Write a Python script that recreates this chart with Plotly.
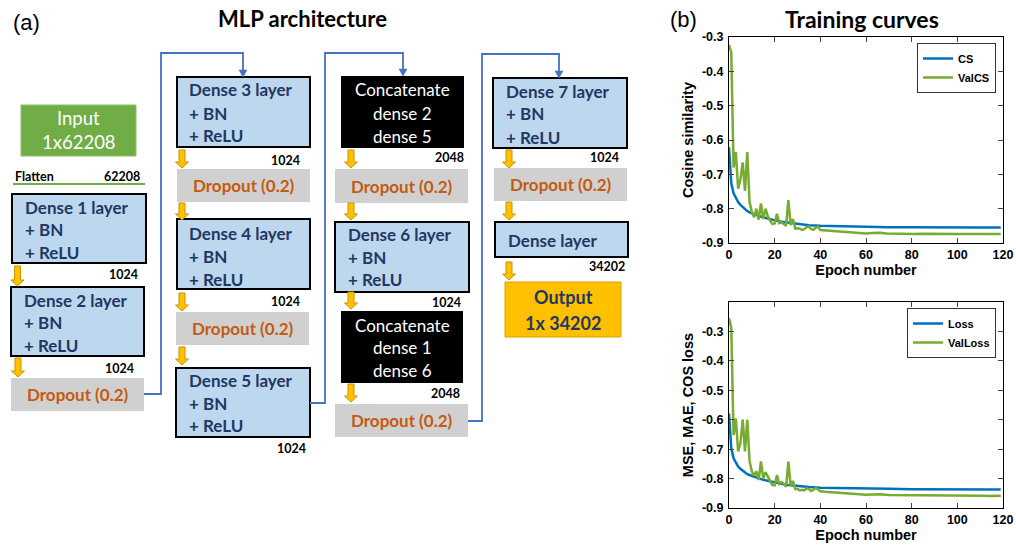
import plotly.graph_objects as go

# The page body margin is removed by a post script, so the figure fills the window exactly.
OFF = 0
W, H = 1016 - OFF, 548 - OFF

# ---------------- chart data ----------------
cs_epochs = [0, 1, 2, 3, 4, 5, 6, 7, 8, 9, 10, 12, 14, 16, 18, 20, 23, 26, 30, 35, 40, 45, 50, 60, 70, 80, 90, 100, 110, 119]
cs = [-0.621, -0.726, -0.755, -0.770, -0.781, -0.789, -0.796, -0.802, -0.807, -0.811, -0.814, -0.819, -0.823, -0.827,
      -0.831, -0.834, -0.838, -0.841, -0.845, -0.848, -0.850, -0.851, -0.852, -0.853, -0.854, -0.854, -0.855, -0.855,
      -0.855, -0.855]

valcs_epochs = list(range(0, 41)) + [42, 44, 46, 48, 50, 52, 55, 58, 60, 63, 66, 69, 72, 75, 78, 81, 85, 90, 95, 100, 105, 110, 115, 119]
valcs = [-0.323, -0.345, -0.680, -0.635, -0.742, -0.715, -0.665, -0.748, -0.635, -0.780,
         -0.810, -0.825, -0.800, -0.832, -0.785, -0.830, -0.800, -0.822, -0.835, -0.845,
         -0.843, -0.815, -0.842, -0.840, -0.845, -0.850, -0.775, -0.848, -0.830, -0.858,
         -0.857, -0.858, -0.862, -0.860, -0.853, -0.852, -0.860, -0.862, -0.855, -0.852,
         -0.862,
         -0.863, -0.865, -0.866, -0.867, -0.868, -0.869, -0.870, -0.871, -0.872, -0.871, -0.870, -0.872,
         -0.873, -0.872, -0.873, -0.874, -0.873, -0.874, -0.873, -0.874, -0.874, -0.873, -0.874, -0.874]

loss_epochs = cs_epochs
loss = [-0.579, -0.697, -0.731, -0.748, -0.759, -0.767, -0.774, -0.780, -0.785, -0.788, -0.791, -0.797, -0.802, -0.806,
        -0.810, -0.814, -0.818, -0.822, -0.826, -0.829, -0.831, -0.832, -0.833, -0.834, -0.835, -0.836, -0.836, -0.837,
        -0.837, -0.837]

valloss_epochs = list(range(0, 41)) + [42, 44, 46, 48, 50, 53, 56, 60, 63, 66, 70, 75, 80, 85, 90, 95, 100, 105, 110, 115, 119]
valloss = [-0.255, -0.287, -0.652, -0.596, -0.708, -0.680, -0.600, -0.708, -0.600, -0.740,
           -0.775, -0.790, -0.775, -0.805, -0.742, -0.800, -0.778, -0.795, -0.808, -0.822,
           -0.823, -0.788, -0.818, -0.812, -0.818, -0.828, -0.742, -0.826, -0.808, -0.836,
           -0.835, -0.840, -0.838, -0.840, -0.833, -0.836, -0.842, -0.838, -0.832, -0.837,
           -0.843,
           -0.845, -0.846, -0.848, -0.849, -0.851, -0.852, -0.853, -0.855, -0.854, -0.853, -0.856,
           -0.856, -0.858, -0.858, -0.857, -0.858, -0.858, -0.858, -0.858, -0.859, -0.858]

x_ticks = [0, 20, 40, 60, 80, 100, 120]
y_tickvals = [-0.9, -0.8, -0.7, -0.6, -0.5, -0.4, -0.3]
y_ticktext = ["-0.9", "-0.8", "-0.7", "-0.6", "-0.5", "-0.4", "-0.3"]

BLUE = "#0072BD"
GREEN = "#77AC30"


# ---------------- pixel helpers (reference pixel coords -> paper) ----------------
def X(x):
    return (x - OFF) / W


def Y(y):
    return 1 - (y - OFF) / H


def P(x, y):
    return f"{X(x):.5f},{Y(y):.5f}"


fig = go.Figure()
fig.add_trace(go.Scatter(x=cs_epochs, y=cs, mode="lines", name="CS", line=dict(color=BLUE, width=2.5),
                         xaxis="x", yaxis="y", legend="legend"))
fig.add_trace(go.Scatter(x=valcs_epochs, y=valcs, mode="lines", name="ValCS", line=dict(color=GREEN, width=2.5),
                         xaxis="x", yaxis="y", legend="legend"))
fig.add_trace(go.Scatter(x=loss_epochs, y=loss, mode="lines", name="Loss", line=dict(color=BLUE, width=2.5),
                         xaxis="x2", yaxis="y2", legend="legend2"))
fig.add_trace(go.Scatter(x=valloss_epochs, y=valloss, mode="lines", name="ValLoss", line=dict(color=GREEN, width=2.5),
                         xaxis="x2", yaxis="y2", legend="legend2"))

AX_FONT = dict(family="Liberation Sans, Arial", size=12.5, color="black", weight="bold")
TITLE_FONT = dict(family="Liberation Sans, Arial", size=14.5, color="black", weight="bold")


def xax(anchor):
    return dict(domain=[X(729), X(1003)], anchor=anchor, range=[0, 120], tickvals=x_ticks, automargin=False,
                ticks="inside", ticklen=5, mirror="allticks", showline=True, linecolor="black", linewidth=1,
                showgrid=False, zeroline=False, tickfont=AX_FONT, title=dict(text="Epoch number", font=TITLE_FONT, standoff=2))


def yax(anchor, top, bottom, rng, title):
    return dict(domain=[Y(bottom), Y(top)], anchor=anchor, range=rng, tickvals=y_tickvals, ticktext=y_ticktext,
                automargin=False, ticks="inside", ticklen=5, mirror="allticks", showline=True, linecolor="black",
                linewidth=1, showgrid=False, zeroline=False, tickfont=AX_FONT, ticklabelstandoff=2,
                title=dict(text=title, font=TITLE_FONT, standoff=4))


# ---------------- diagram ----------------
shapes = []
annotations = []

LB, GRAY, NAVY, ORANGE = "#BDD7EE", "#D0D0D0", "#1F3864", "#C55A11"
DFONT = "Lato, Calibri, Open Sans"


def rect(x0, y0, x1, y1, fill, line=None, lw=0):
    shapes.append(dict(type="rect", xref="paper", yref="paper", x0=X(x0), x1=X(x1), y0=Y(y1), y1=Y(y0),
                       fillcolor=fill, line=dict(color=line if line else fill, width=lw)))


def text(x, y, t, size, color, anchor="left", bold=False, family=DFONT):
    annotations.append(dict(xref="paper", yref="paper", x=X(x), y=Y(y), text=("<b>%s</b>" % t) if bold else t,
                            showarrow=False, xanchor=anchor, yanchor="middle",
                            font=dict(family=family, size=size, color=color)))


dense_boxes = [
    (12, 194, 146, 263, "Dense 1 layer", 23, (207, 229, 252)),
    (11, 287, 144, 356, "Dense 2 layer", 22, (300, 322, 345)),
    (177, 77, 310, 147, "Dense 3 layer", 187, (90, 113, 135)),
    (177, 219, 310, 289, "Dense 4 layer", 187, (233, 256, 279)),
    (176, 368, 310, 437, "Dense 5 layer", 187, (380, 403, 425)),
    (335, 222, 469, 292, "Dense 6 layer", 346, (234, 257, 279)),
    (493, 78, 627, 148, "Dense 7 layer", 504, (91, 113, 137)),
]
for x0, y0, x1, y1, t, tx, ys in dense_boxes:
    rect(x0, y0, x1, y1, LB, "black", 2)
    for line_text, yy in zip([t, "+ BN", "+ ReLU"], ys):
        text(tx, yy, line_text, 17, NAVY, "left", True)

rect(495, 222, 628, 257, LB, "black", 2)
text(506, 240, "Dense layer", 17, NAVY, "left", True)

dropouts = [(11, 378, 144, 411), (177, 169, 310, 202), (176, 312, 309, 345),
            (335, 169, 468, 203), (335, 404, 468, 437), (494, 168, 627, 201)]
for x0, y0, x1, y1 in dropouts:
    rect(x0, y0, x1, y1, GRAY)
    text((x0 + x1) / 2, (y0 + y1) / 2, "Dropout (0.2)", 17, ORANGE, "center", True)

concats = [(341, 76, 464, 148, ["Concatenate", "dense 2", "dense 5"], (90, 113, 136)),
           (341, 311, 463, 383, ["Concatenate", "dense 1", "dense 6"], (325, 347, 370))]
for x0, y0, x1, y1, lines, ys in concats:
    rect(x0, y0, x1, y1, "black")
    for lt, yy in zip(lines, ys):
        text((x0 + x1) / 2, yy, lt, 17, "white", "center")

# input
rect(21, 105, 136, 156, "#70AD47", "#8CC168", 1)
text(78.5, 118, "Input", 18.5, "white", "center")
text(78.5, 142, "1x62208", 18.5, "white", "center")

# output
rect(505, 282, 621, 337, "#FFC000", "#D9A300", 1)
text(563, 297, "Output", 18, NAVY, "center", True)
text(563, 323, "1x 34202", 18, NAVY, "center", True)

# flatten
text(13, 176, "Flatten", 12.5, "black", "left", True)
text(142, 176, "62208", 12.5, "black", "right", True)
shapes.append(dict(type="line", xref="paper", yref="paper", x0=X(13), x1=X(145), y0=Y(184), y1=Y(184),
                   line=dict(color="#70AD47", width=2)))

# size labels
sizes = [(140, 274, "1024"), (136, 368, "1024"), (302, 160, "1024"), (302, 301, "1024"), (308, 448, "1024"),
         (466, 158, "2048"), (463, 302, "1024"), (462, 393, "2048"), (621, 158, "1024"), (627, 266, "34202")]
for x, y, t in sizes:
    text(x, y, t, 12.5, "black", "right", True)

# yellow arrows
arrows = [(17.5, 266, 286), (18, 358, 377),
          (182, 150, 168), (182, 203, 220), (182, 293, 311), (182, 347, 365),
          (351, 150, 168), (351, 203, 220), (351, 292, 309), (351, 384, 402),
          (509, 150, 168), (509, 202, 220), (509, 262, 280)]
for x, y0, y1 in arrows:
    pts = [(x - 3, y0), (x + 3, y0), (x + 3, y1 - 6), (x + 6.5, y1 - 6), (x, y1), (x - 6.5, y1 - 6), (x - 3, y1 - 6)]
    path = "M " + " L ".join(P(a, b) for a, b in pts) + " Z"
    shapes.append(dict(type="path", xref="paper", yref="paper", path=path, fillcolor="#FFC000",
                       line=dict(color="#C89400", width=1)))

# blue connectors
CONN = "#4472C4"
connectors = [
    [(144, 394), (161, 394), (161, 53), (243, 53), (243, 77)],
    [(310, 403), (325, 403), (325, 53), (403, 53), (403, 76)],
    [(468, 421), (482, 421), (482, 54), (559, 54), (559, 78)],
]
for pts in connectors:
    tipx, tipy = pts[-1]
    pts2 = pts[:-1] + [(tipx, tipy - 6)]
    path = "M " + " L ".join(P(a, b) for a, b in pts2)
    shapes.append(dict(type="path", xref="paper", yref="paper", path=path, line=dict(color=CONN, width=1.8)))
    tri = "M " + " L ".join(P(a, b) for a, b in [(tipx - 4, tipy - 7), (tipx + 4, tipy - 7), (tipx, tipy)]) + " Z"
    shapes.append(dict(type="path", xref="paper", yref="paper", path=tri, fillcolor=CONN, line=dict(color=CONN, width=0.5)))

# titles
text(26, 22, "(a)", 22, "black", "center", family="Liberation Sans, Arial")
text(302, 18, "MLP architecture", 22, "black", "center", True)
text(683, 20, "(b)", 22, "black", "center", family="Liberation Sans, Arial")
text(862, 19, "Training curves", 23, "black", "center", True)

LEG_FONT = dict(family="Liberation Sans, Arial", size=11, color="black", weight="bold")
fig.update_layout(
    width=W, height=H, margin=dict(l=0, r=0, t=0, b=0, pad=0, autoexpand=False),
    paper_bgcolor="white", plot_bgcolor="white",
    xaxis=xax("y"), yaxis=yax("x", 37, 243, [-0.9, -0.3], "Cosine similarity"),
    xaxis2=xax("y2"), yaxis2=yax("x2", 302, 508, [-0.9, -0.2], "MSE, MAE, COS loss"),
    shapes=shapes, annotations=annotations, showlegend=True,
    legend=dict(x=X(996), y=Y(43), xanchor="right", yanchor="top", bgcolor="white", bordercolor="#333",
                borderwidth=1, font=LEG_FONT, itemwidth=30, tracegroupgap=0),
    legend2=dict(x=X(996), y=Y(308), xanchor="right", yanchor="top", bgcolor="white", bordercolor="#333",
                 borderwidth=1, font=LEG_FONT, itemwidth=30, tracegroupgap=0),
)

fig.write_html("out.html", config={"displayModeBar": False},
               post_script="document.body.style.margin='0px'; document.body.style.overflow='hidden';")
